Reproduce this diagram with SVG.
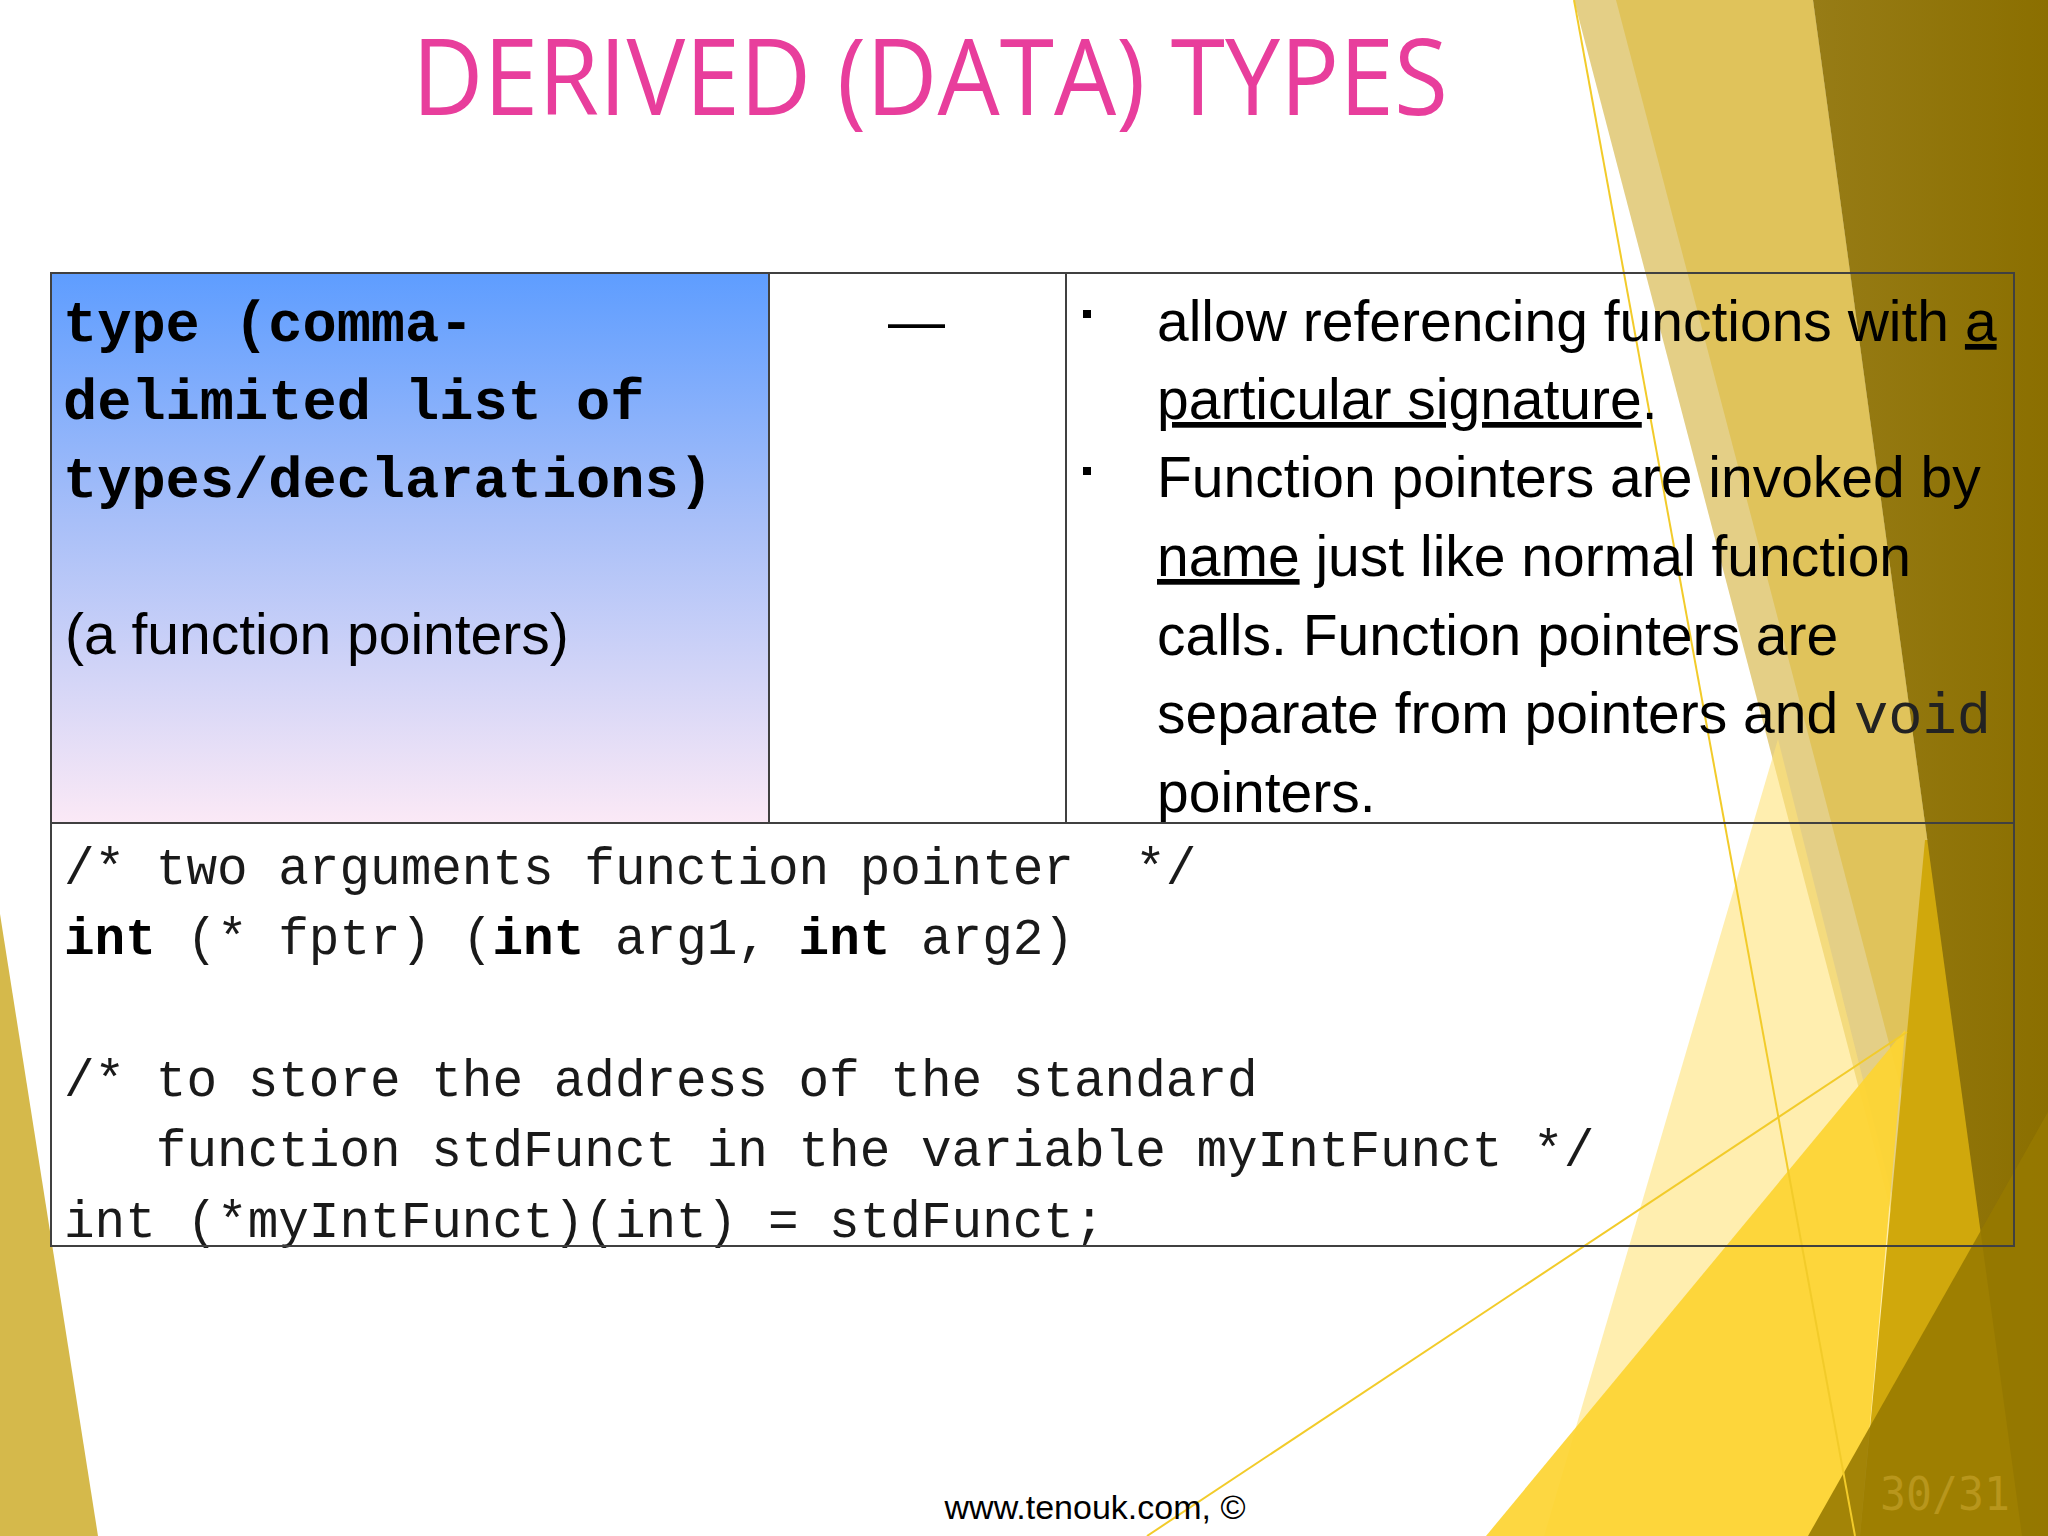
<svg xmlns="http://www.w3.org/2000/svg" width="2048" height="1536" viewBox="0 0 2048 1536">
  <defs>
    <linearGradient id="cellGrad" x1="0" y1="273" x2="0" y2="823" gradientUnits="userSpaceOnUse">
      <stop offset="0" stop-color="#5E9DFF"/>
      <stop offset="0.45" stop-color="#A8BFF8"/>
      <stop offset="1" stop-color="#FBE9F6"/>
    </linearGradient>
    <linearGradient id="darkGrad" x1="1813" y1="0" x2="2048" y2="0" gradientUnits="userSpaceOnUse">
      <stop offset="0" stop-color="#977C16"/>
      <stop offset="1" stop-color="#8B6F00"/>
    </linearGradient>
    <style>
      .body { font-family: "Liberation Sans", Arial, sans-serif; font-size: 57px; fill: #000; }
      .mono { font-family: "Liberation Mono", "Courier New", monospace; }
      .code { font-family: "Liberation Mono", "Courier New", monospace; font-size: 51px; fill: #1a1a1a; white-space: pre; }
      .bold { font-weight: bold; }
      .grid { stroke: #404040; stroke-width: 2; fill: none; }
      .thin { stroke: #F2CB2A; stroke-width: 2; fill: none; }
      .u { text-decoration: underline; }
    </style>
  </defs>

  <rect x="0" y="0" width="2048" height="1536" fill="#FFFFFF"/>

  <g id="background">
    <polygon points="1574,0 1813,0 2022,1536 1976,1536" fill="#E4CF86"/>
    <polygon points="1616,0 1813,0 2022,1536 2018,1536" fill="#E0C35B"/>
    <polygon points="1778,739 1544,1536 1977,1536" fill="#FFE27A" fill-opacity="0.6"/>
    <polygon points="1925,840 2048,840 2048,1536 1860,1536" fill="#D0A80C"/>
    <polygon points="1486,1536 1905,1030 1860,1536" fill="#FDD433" fill-opacity="0.93"/>
    <polygon points="1813,0 2048,0 2048,1536 2022,1536" fill="url(#darkGrad)"/>
    <polygon points="1808,1536 2048,1112 2048,1536" fill="#967900" fill-opacity="0.88"/>
    <line class="thin" x1="1574" y1="0" x2="1855" y2="1536"/>
    <line class="thin" x1="1147" y1="1536" x2="1907" y2="1032"/>
    <polygon points="0,914 98,1536 0,1536" fill="#D5B94B"/>
  </g>

  <g id="title">
    <text x="412" y="115" font-family="Open Sans, Noto Sans, sans-serif" font-size="106" fill="#E83E9C" textLength="1036" lengthAdjust="spacingAndGlyphs">DERIVED (DATA) TYPES</text>
  </g>

  <g id="cell-type">
    <rect x="51" y="273" width="718" height="550" fill="url(#cellGrad)"/>
    <text class="mono bold" x="63" y="341" font-size="57" fill="#000">type (comma-</text>
    <text class="mono bold" x="63" y="419" font-size="57" fill="#000">delimited list of</text>
    <text class="mono bold" x="63" y="497" font-size="57" fill="#000">types/declarations)</text>
    <text class="body" x="65" y="654">(a function pointers)</text>
  </g>

  <g id="cell-dash">
    <text class="body" x="888" y="341">—</text>
  </g>

  <g id="cell-description">
    <rect x="1083" y="310" width="8" height="8" fill="#000"/>
    <rect x="1083" y="467" width="8" height="8" fill="#000"/>
    <text class="body" x="1157" y="341">allow referencing functions with <tspan class="u">a</tspan></text>
    <text class="body" x="1157" y="419"><tspan class="u">particular signature</tspan>.</text>
    <text class="body" x="1157" y="497">Function pointers are invoked by</text>
    <text class="body" x="1157" y="576"><tspan class="u">name</tspan> just like normal function</text>
    <text class="body" x="1157" y="655">calls. Function pointers are</text>
    <text class="body" x="1157" y="733">separate from pointers and <tspan class="mono" fill="#222">void</tspan></text>
    <text class="body" x="1157" y="812">pointers.</text>
  </g>

  <g id="cell-code">
    <text class="code" x="64" y="884" xml:space="preserve">/* two arguments function pointer  */</text>
    <text class="code" x="64" y="954" xml:space="preserve"><tspan class="bold" fill="#000">int</tspan> (* fptr) (<tspan class="bold" fill="#000">int</tspan> arg1, <tspan class="bold" fill="#000">int</tspan> arg2)</text>
    <text class="code" x="64" y="1096" xml:space="preserve">/* to store the address of the standard</text>
    <text class="code" x="64" y="1166" xml:space="preserve">   function stdFunct in the variable myIntFunct */</text>
    <text class="code" x="64" y="1237" xml:space="preserve">int (*myIntFunct)(int) = stdFunct;</text>
  </g>

  <g id="connectors">
    <rect class="grid" x="51" y="273" width="1963" height="973"/>
    <line class="grid" x1="51" y1="823" x2="2014" y2="823"/>
    <line class="grid" x1="769" y1="273" x2="769" y2="823"/>
    <line class="grid" x1="1066" y1="273" x2="1066" y2="823"/>
  </g>

  <g id="footer">
    <text x="1095" y="1519" font-family="Liberation Sans, Arial, sans-serif" font-size="34" fill="#000" text-anchor="middle">www.tenouk.com, ©</text>
    <text x="1880" y="1510" font-family="DejaVu Sans Mono, monospace" font-size="46" fill="#B8961C" textLength="130" lengthAdjust="spacingAndGlyphs">30/31</text>
  </g>
</svg>
